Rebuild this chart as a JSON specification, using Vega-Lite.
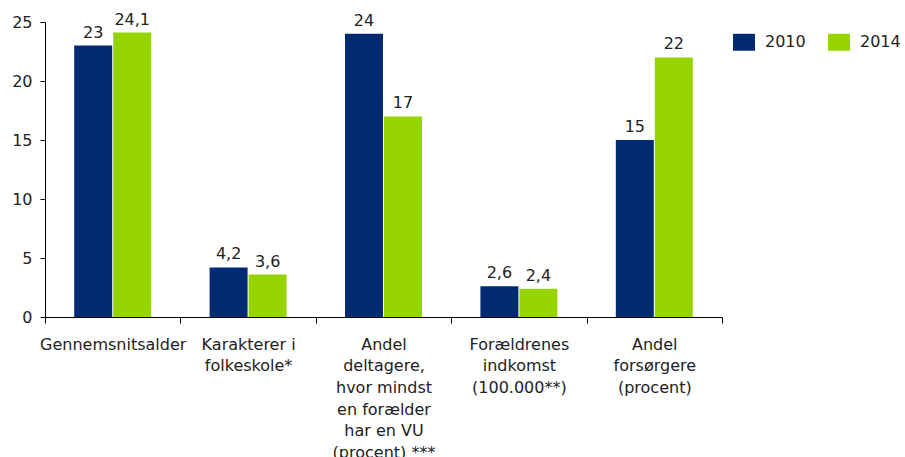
{
  "$schema": "https://vega.github.io/schema/vega-lite/v6.json",
  "width": 677,
  "height": 295,
  "autosize": {"type": "none"},
  "padding": {"left": 45, "top": 22, "right": 183, "bottom": 140},
  "background": "white",
  "config": {
    "view": {"stroke": null},
    "font": "DejaVu Sans",
    "axis": {"labelFont": "DejaVu Sans", "labelFontSize": 16, "labelColor": "#222", "domainColor": "#000", "tickColor": "#000", "grid": false, "title": null},
    "legend": {"labelFont": "DejaVu Sans", "labelFontSize": 16, "labelColor": "#222"}
  },
  "data": {
    "values": [
      {"kategori": "Gennemsnitsalder", "aar": "2010", "vaerdi": 23},
      {"kategori": "Gennemsnitsalder", "aar": "2014", "vaerdi": 24.1},
      {"kategori": "Karakterer i|folkeskole*", "aar": "2010", "vaerdi": 4.2},
      {"kategori": "Karakterer i|folkeskole*", "aar": "2014", "vaerdi": 3.6},
      {"kategori": "Andel|deltagere,|hvor mindst|en forælder|har en VU|(procent) ***", "aar": "2010", "vaerdi": 24},
      {"kategori": "Andel|deltagere,|hvor mindst|en forælder|har en VU|(procent) ***", "aar": "2014", "vaerdi": 17},
      {"kategori": "Forældrenes|indkomst|(100.000**)", "aar": "2010", "vaerdi": 2.6},
      {"kategori": "Forældrenes|indkomst|(100.000**)", "aar": "2014", "vaerdi": 2.4},
      {"kategori": "Andel|forsørgere|(procent)", "aar": "2010", "vaerdi": 15},
      {"kategori": "Andel|forsørgere|(procent)", "aar": "2014", "vaerdi": 22}
    ]
  },
  "encoding": {
    "x": {
      "field": "kategori", "type": "nominal", "sort": null,
      "scale": {"paddingInner": 0, "paddingOuter": 0},
      "axis": {"labelAngle": 0, "tickBand": "extent", "tickSize": 6, "labelPadding": 13, "labelExpr": "split(datum.label, '|')", "labelLineHeight": 21.7, "labelLimit": 0}
    },
    "xOffset": {"field": "aar", "type": "nominal", "scale": {"paddingInner": 0.026, "paddingOuter": 0.749}},
    "y": {
      "field": "vaerdi", "type": "quantitative",
      "scale": {"domain": [0, 25], "nice": false},
      "axis": {"values": [0, 5, 10, 15, 20, 25], "tickSize": 5, "labelPadding": 8}
    }
  },
  "layer": [
    {
      "mark": {"type": "bar"},
      "encoding": {
        "color": {
          "field": "aar", "type": "nominal",
          "scale": {"domain": ["2010", "2014"], "range": ["#002a72", "#96d400"]},
          "legend": {"title": null, "orient": "none", "legendX": 688, "legendY": 9, "direction": "horizontal", "symbolType": "M-1,-0.77L1,-0.77L1,0.77L-1,0.77Z", "symbolSize": 484, "symbolStrokeWidth": 0, "labelOffset": 10, "columnPadding": 22}
        }
      }
    },
    {
      "mark": {"type": "text", "baseline": "bottom", "dy": -5, "fontSize": 16, "color": "#222", "text": {"expr": "replace(toString(datum.vaerdi), '.', ',')"}},
      "encoding": {}
    }
  ]
}
